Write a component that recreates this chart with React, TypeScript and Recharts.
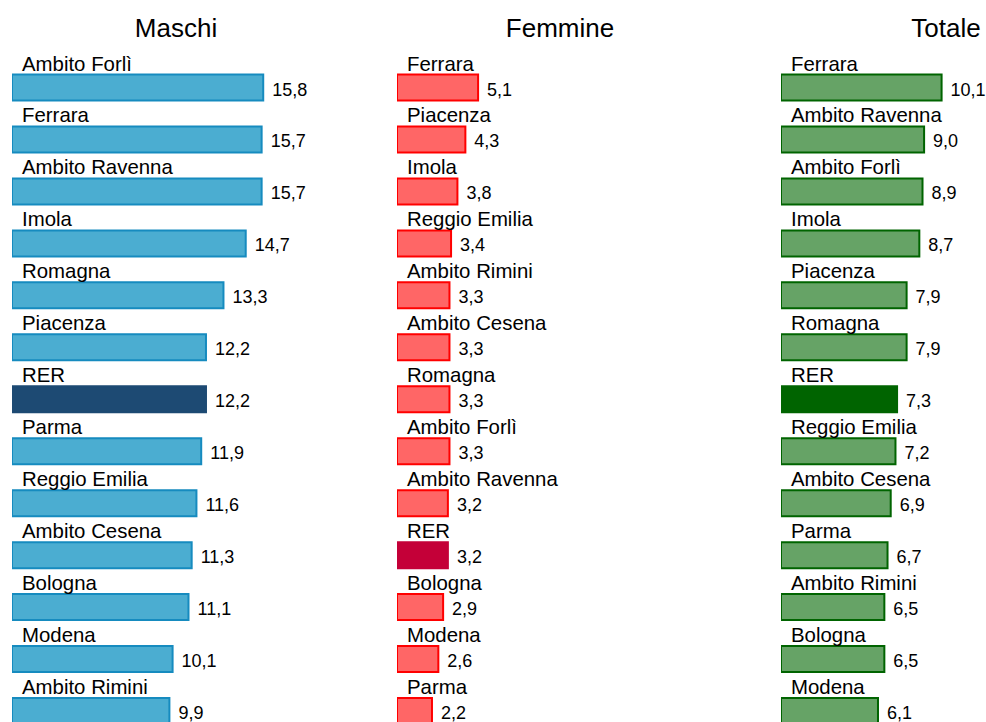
import React from "react";
import { BarChart, Bar, XAxis, YAxis, Cell, LabelList } from "recharts";

// Maschi
const maschiCategories = [
  "Ambito Forlì",
  "Ferrara",
  "Ambito Ravenna",
  "Imola",
  "Romagna",
  "Piacenza",
  "RER",
  "Parma",
  "Reggio Emilia",
  "Ambito Cesena",
  "Bologna",
  "Modena",
  "Ambito Rimini",
];
const maschiValues = [15.8, 15.7, 15.7, 14.7, 13.3, 12.2, 12.2, 11.9, 11.6, 11.3, 11.1, 10.1, 9.9];

// Femmine
const femmineCategories = [
  "Ferrara",
  "Piacenza",
  "Imola",
  "Reggio Emilia",
  "Ambito Rimini",
  "Ambito Cesena",
  "Romagna",
  "Ambito Forlì",
  "Ambito Ravenna",
  "RER",
  "Bologna",
  "Modena",
  "Parma",
];
const femmineValues = [5.1, 4.3, 3.8, 3.4, 3.3, 3.3, 3.3, 3.3, 3.2, 3.2, 2.9, 2.6, 2.2];

// Totale
const totaleCategories = [
  "Ferrara",
  "Ambito Ravenna",
  "Ambito Forlì",
  "Imola",
  "Piacenza",
  "Romagna",
  "RER",
  "Reggio Emilia",
  "Ambito Cesena",
  "Parma",
  "Ambito Rimini",
  "Bologna",
  "Modena",
];
const totaleValues = [10.1, 9.0, 8.9, 8.7, 7.9, 7.9, 7.3, 7.2, 6.9, 6.7, 6.5, 6.5, 6.1];

const FONT = '"Liberation Sans", Arial, sans-serif';
const DOMAIN_MAX = 20;
const PLOT_W = 318; // 15.9 px per unit
const CHART_W = 400;
const CHART_H = 737;

function renderName(props: any) {
  const { x, y, value } = props;
  return (
    <text x={Number(x) + 10} y={Number(y) - 4} fontSize={20.4} fontFamily={FONT} fill="#000">
      {value}
    </text>
  );
}

function renderValue(props: any) {
  const { x, y, width, height, value } = props;
  return (
    <text
      x={Number(x) + Number(width) + 9}
      y={Number(y) + Number(height) / 2 + 8}
      fontSize={18}
      fontFamily={FONT}
      fill="#000"
    >
      {Number(value).toFixed(1).replace(".", ",")}
    </text>
  );
}

function Panel({
  title,
  categories,
  values,
  fill,
  stroke,
  rerFill,
  left,
  titleCenter,
}: {
  title: string;
  categories: string[];
  values: number[];
  fill: string;
  stroke: string;
  rerFill: string;
  left: number;
  titleCenter: number;
}) {
  const data = categories.map((name, i) => ({ name, value: values[i] }));
  return (
    <>
      <div
        style={{
          position: "absolute",
          left: titleCenter - 100,
          top: 15,
          width: 200,
          textAlign: "center",
          fontFamily: FONT,
          fontSize: 26,
          lineHeight: "26px",
          color: "#000",
        }}
      >
        {title}
      </div>
      <div style={{ position: "absolute", left, top: 0 }}>
        <BarChart
          layout="vertical"
          width={CHART_W}
          height={CHART_H}
          data={data}
          margin={{ top: 61.5, right: CHART_W - PLOT_W, bottom: 0, left: 0 }}
        >
          <XAxis type="number" domain={[0, DOMAIN_MAX]} hide />
          <YAxis type="category" dataKey="name" hide />
          <Bar dataKey="value" barSize={26} fill={fill} stroke={stroke} strokeWidth={2} isAnimationActive={false}>
            {data.map((d) => (
              <Cell
                key={d.name}
                fill={d.name === "RER" ? rerFill : fill}
                stroke={d.name === "RER" ? rerFill : stroke}
              />
            ))}
            <LabelList dataKey="name" content={renderName} />
            <LabelList dataKey="value" content={renderValue} />
          </Bar>
        </BarChart>
      </div>
    </>
  );
}

export default function App() {
  return (
    <div
      style={{
        position: "absolute",
        left: 0,
        top: 0,
        width: 986,
        height: 722,
        overflow: "hidden",
        background: "#fff",
      }}
    >
      <Panel
        title="Maschi"
        categories={maschiCategories}
        values={maschiValues}
        fill="#4BADD1"
        stroke="#168BBF"
        rerFill="#1D4A73"
        left={12}
        titleCenter={176}
      />
      <Panel
        title="Femmine"
        categories={femmineCategories}
        values={femmineValues}
        fill="#FF6666"
        stroke="#FF0000"
        rerFill="#C40038"
        left={397}
        titleCenter={560}
      />
      <Panel
        title="Totale"
        categories={totaleCategories}
        values={totaleValues}
        fill="#66A366"
        stroke="#006400"
        rerFill="#006400"
        left={781}
        titleCenter={946}
      />
    </div>
  );
}
